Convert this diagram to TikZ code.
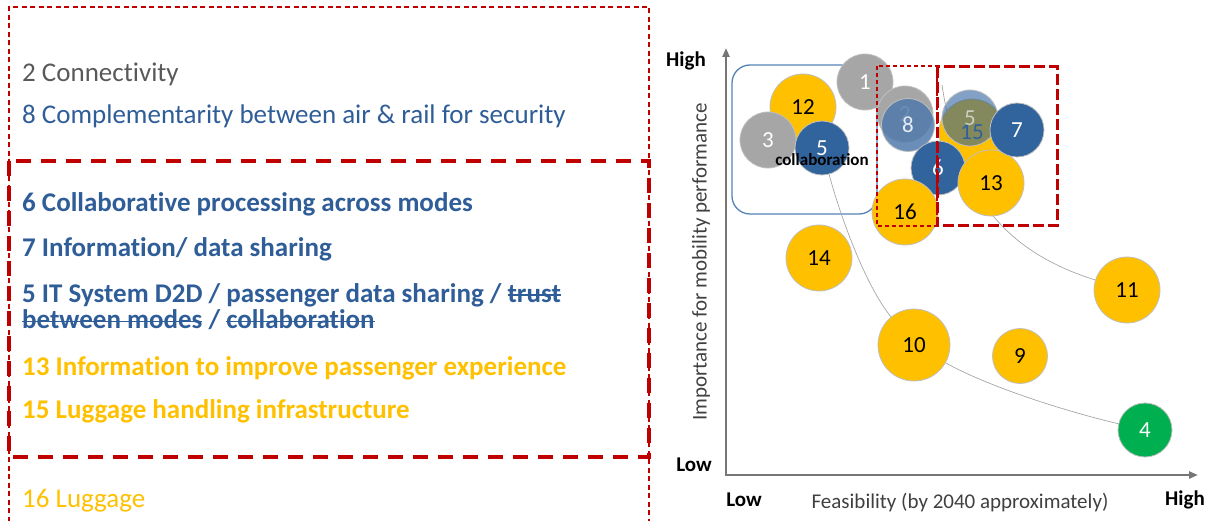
\documentclass[tikz,border=0pt]{standalone}
\usepackage{fontspec}
\setmainfont{Carlito}[Ligatures=NoCommon]
\usetikzlibrary{backgrounds,arrows.meta}
\definecolor{redbox}{RGB}{192,0,0}
\definecolor{txtgray}{RGB}{89,89,89}
\definecolor{txtblue}{RGB}{47,93,152}
\definecolor{bblue}{RGB}{49,99,156}
\definecolor{orng}{RGB}{255,192,0}
\definecolor{bgray}{RGB}{166,166,166}
\definecolor{bgreen}{RGB}{0,176,80}
\definecolor{rectblue}{RGB}{84,130,180}
\definecolor{axgray}{RGB}{118,118,118}
\def\bigtxt{\fontsize{27}{32}\selectfont}
\newcommand\strk[1]{\setbox0\hbox{#1}\rlap{\rule[6pt]{\wd0}{1.5pt}}\box0\relax}

\begin{document}
\begin{tikzpicture}[x=1pt,y=-1pt,
	item/.style={anchor=base west,inner sep=0pt,font=\bigtxt},
	bolditem/.style={item,font=\bigtxt\bfseries},
	bub/.style={circle,draw=black!25,line width=0.8pt,minimum size=#1,inner sep=0pt,font=\fontsize{23}{26}\selectfont},
	axis/.style={draw=axgray,line width=2.2pt},
	trend/.style={draw=black!35,line width=0.7pt},
	axlab/.style={font=\fontsize{21}{24}\selectfont,text=black!75},
	lvl/.style={font=\fontsize{21}{24}\selectfont\bfseries}]
	\useasboundingbox (0,0) rectangle (1210,521);

	\draw[redbox,line width=1.6pt,dash pattern=on 5pt off 3.5pt] (9,530) -- (9,7) -- (649,7) -- (649,530);
	\draw[redbox,line width=3.2pt,dash pattern=on 15pt off 10pt] (9,161) rectangle (649,457);

	\node[item,text=txtgray] (t2) at (22,82) {2 Connectivity};
	\node[item,text=txtblue] (t8) at (22,124) {8 Complementarity between air \& rail for security};
	\node[bolditem,text=txtblue] (t6) at (22,212) {6 Collaborative processing across modes};
	\node[bolditem,text=txtblue] (t7) at (22,257) {7 Information/ data sharing};
	\node[bolditem,text=txtblue] (t5) at (22,302) {5 IT System D2D / passenger data sharing / \strk{trust}};
	\node[bolditem,text=txtblue] (t5b) at (22,328) {\strk{between modes} / \strk{collaboration}};
	\node[bolditem,text=orng] (t13) at (22,375) {13 Information to improve passenger experience};
	\node[bolditem,text=orng] (t15) at (22,418) {15 Luggage handling infrastructure};
	\node[item,text=orng] (t16) at (22,507) {16 Luggage};

	\coordinate (ytop) at (726,48);
	\coordinate (org) at (726,475);
	\coordinate (xend) at (1198,475);
	\draw[axis,{Triangle[length=9pt,width=7pt]}-{Triangle[length=9pt,width=7pt]}] (ytop) -- (org) -- (xend);
	\node[lvl] (yhi) at (686,61) {High};
	\node[lvl] (ylo) at (694,465) {Low};
	\node[lvl] (xlo) at (744,500) {Low};
	\node[lvl] (xhi) at (1185,500) {High};
	\node[axlab] (xlab) at (960,503) {Feasibility (by 2040 approximately)};
	\node[axlab,rotate=90] (ylab) at (701,262) {Importance for mobility performance};

	\node[bub=66pt,fill=orng] (b12) at (803,107) {12};
	\node[bub=56pt,fill=bgray,text=white] (b3) at (768,140) {3};
	\node[bub=54pt,fill=bblue,text=white] (b5a) at (822,148) {5};
	\node[bub=56pt,fill=bgray,text=white] (b1) at (865,82) {1};
	\node[bub=56pt,fill=bgray,text=white] (b2) at (905,114) {2};
	\node[bub=53pt,fill=bblue!85!white,fill opacity=0.85,text=white] (b8) at (908,125) {8};
	\node[bub=66pt,fill=orng,text=txtblue] (b15) at (972,132) {15};
	\node[bub=54pt,fill=bblue,text=white] (b6) at (938,168) {6};
	\node[bub=66pt,fill=orng] (b16) at (905,212) {16};
	\node[bub=66pt,fill=orng] (b13) at (991,183) {13};
	\node[bub=56pt,fill=bblue,fill opacity=0.6,text=white] (b5b) at (970,118) {5};
	\node[bub=54pt,fill=bblue,text=white] (b7) at (1017,130) {7};
	\node[bub=66pt,fill=orng] (b14) at (819,258) {14};
	\node[bub=72pt,fill=orng] (b10) at (914,345) {10};
	\node[bub=55pt,fill=orng] (b9) at (1020,356) {9};
	\node[bub=66pt,fill=orng] (b11) at (1127,290) {11};
	\node[bub=54pt,fill=bgreen,text=white] (b4) at (1145,430) {4};
	\node[font=\fontsize{17}{20}\selectfont\bfseries,inner sep=0pt] (collab) at (822,160) {collaboration};

	\begin{scope}[on background layer]
		\draw[rectblue,line width=1.3pt,rounded corners=18pt] (732,65) rectangle (877,214);
		\coordinate (cA) at (942,85);
		\draw[trend] (cA) .. controls (958,190) and (1000,250) .. (b11);
		\draw[trend] (b5a) .. controls (840,215) and (865,285) .. (b10);
		\draw[trend] (b10) .. controls (985,385) and (1060,410) .. (b4);
	\end{scope}

	\draw[redbox,line width=1.5pt,dash pattern=on 4pt off 3pt] (877,66) rectangle (937,226);
	\draw[redbox,line width=3pt,dash pattern=on 11pt off 4pt] (937,67) rectangle (1057,226);
\end{tikzpicture}
\end{document}
